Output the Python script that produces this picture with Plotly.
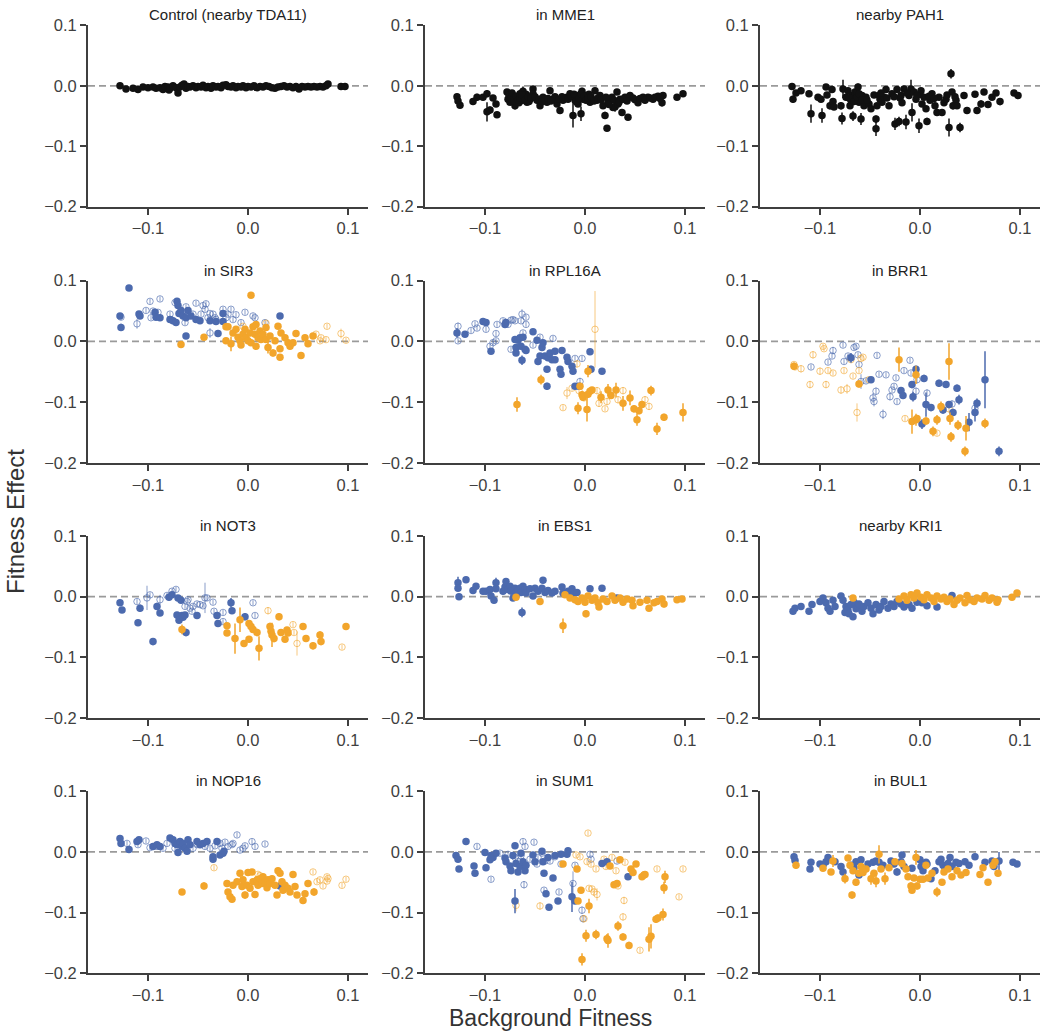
import plotly.graph_objects as go

# ---------------- data: (background fitness, fitness effect, error) ----------------
TITLES = ["Control (nearby TDA11)", "in MME1", "nearby PAH1",
          "in SIR3", "in RPL16A", "in BRR1",
          "in NOT3", "in EBS1", "nearby KRI1",
          "in NOP16", "in SUM1", "in BUL1"]

X_TICKS = [-0.1, 0.0, 0.1]
Y_TICKS = [-0.2, -0.1, 0.0, 0.1]

CONTROL_K = [(-0.128,0.000,0.002),(-0.122,-0.005,0.002),(-0.115,-0.004,0.002),(-0.110,-0.006,0.002),(-0.105,-0.002,0.002),
    (-0.100,-0.003,0.002),(-0.095,-0.002,0.002),(-0.092,-0.004,0.002),(-0.088,-0.003,0.002),(-0.085,-0.006,0.002),
    (-0.083,-0.001,0.002),(-0.080,-0.002,0.002),(-0.079,-0.007,0.002),(-0.078,-0.004,0.002),(-0.075,0.000,0.002),
    (-0.072,-0.003,0.002),(-0.070,-0.012,0.002),(-0.068,-0.002,0.002),(-0.066,0.001,0.002),(-0.064,0.003,0.002),
    (-0.062,-0.004,0.002),(-0.060,-0.001,0.002),(-0.058,-0.002,0.002),(-0.055,0.000,0.002),(-0.052,-0.003,0.002),
    (-0.050,-0.001,0.002),(-0.047,-0.002,0.002),(-0.045,0.001,0.002),(-0.042,-0.003,0.002),(-0.040,-0.001,0.002),
    (-0.037,-0.004,0.002),(-0.035,0.000,0.002),(-0.032,-0.002,0.002),(-0.030,-0.001,0.002),(-0.027,-0.003,0.002),
    (-0.025,0.001,0.002),(-0.022,0.002,0.002),(-0.020,-0.001,0.002),(-0.017,-0.002,0.002),(-0.015,0.000,0.002),
    (-0.012,-0.003,0.002),(-0.010,-0.001,0.002),(-0.007,-0.002,0.002),(-0.005,0.000,0.002),(-0.002,-0.003,0.002),
    (0.000,-0.001,0.002),(0.003,-0.002,0.002),(0.006,0.000,0.002),(0.009,-0.003,0.002),(0.012,-0.001,0.002),
    (0.015,-0.002,0.002),(0.018,0.000,0.002),(0.021,-0.001,0.002),(0.024,-0.003,0.002),(0.027,-0.004,0.002),
    (0.030,-0.002,0.002),(0.033,-0.001,0.002),(0.036,0.000,0.002),(0.039,-0.002,0.002),(0.042,-0.001,0.002),
    (0.045,-0.003,0.002),(0.048,-0.001,0.002),(0.051,-0.005,0.002),(0.054,-0.001,0.002),(0.057,-0.002,0.002),
    (0.060,-0.001,0.002),(0.063,-0.002,0.002),(0.066,-0.001,0.002),(0.069,-0.002,0.002),(0.072,-0.001,0.002),
    (0.075,-0.002,0.002),(0.078,0.000,0.002),(0.080,0.003,0.002),(0.093,-0.001,0.002),(0.097,-0.001,0.002)]

MME1_K = [(-0.128,-0.018,0.004),(-0.127,-0.025,0.004),(-0.125,-0.032,0.004),(-0.112,-0.026,0.004),(-0.108,-0.019,0.006),
    (-0.102,-0.019,0.004),(-0.098,-0.013,0.006),(-0.098,-0.043,0.016),(-0.095,-0.040,0.006),(-0.092,-0.020,0.004),
    (-0.089,-0.030,0.004),(-0.088,-0.048,0.004),(-0.078,-0.010,0.004),(-0.077,-0.022,0.004),(-0.075,-0.027,0.004),
    (-0.072,-0.016,0.004),(-0.070,-0.033,0.006),(-0.070,-0.020,0.004),(-0.068,-0.022,0.004),(-0.067,-0.019,0.004),
    (-0.066,-0.028,0.004),(-0.065,-0.013,0.006),(-0.064,-0.017,0.004),(-0.063,-0.024,0.004),(-0.062,-0.009,0.008),
    (-0.061,-0.022,0.004),(-0.060,-0.019,0.004),(-0.059,-0.014,0.004),(-0.058,-0.027,0.004),(-0.056,-0.026,0.004),
    (-0.055,-0.022,0.004),(-0.052,-0.005,0.004),(-0.052,-0.013,0.004),(-0.048,-0.024,0.004),(-0.045,-0.033,0.004),
    (-0.042,-0.019,0.004),(-0.040,-0.022,0.004),(-0.038,-0.027,0.004),(-0.035,-0.008,0.004),(-0.032,-0.022,0.004),
    (-0.030,-0.018,0.004),(-0.028,-0.030,0.004),(-0.025,-0.041,0.004),(-0.022,-0.024,0.004),(-0.020,-0.020,0.004),
    (-0.018,-0.019,0.004),(-0.015,-0.013,0.004),(-0.012,-0.049,0.020),(-0.010,-0.024,0.004),(-0.008,-0.016,0.004),
    (-0.008,-0.020,0.004),(-0.007,-0.030,0.004),(-0.005,-0.017,0.004),(-0.004,-0.046,0.012),(-0.003,-0.009,0.006),
    (-0.002,-0.022,0.004),(0.000,-0.020,0.004),(0.002,-0.016,0.004),(0.004,-0.014,0.004),(0.005,-0.027,0.004),
    (0.007,-0.022,0.004),(0.010,-0.008,0.004),(0.012,-0.024,0.004),(0.015,-0.016,0.004),(0.018,-0.033,0.004),
    (0.020,-0.049,0.006),(0.022,-0.070,0.004),(0.023,-0.027,0.004),(0.025,-0.022,0.004),(0.027,-0.019,0.004),
    (0.028,-0.036,0.004),(0.030,-0.035,0.008),(0.032,-0.010,0.004),(0.033,-0.030,0.004),(0.035,-0.022,0.004),
    (0.037,-0.044,0.004),(0.040,-0.019,0.004),(0.043,-0.052,0.004),(0.045,-0.016,0.004),(0.050,-0.023,0.004),
    (0.053,-0.028,0.004),(0.058,-0.019,0.004),(0.063,-0.019,0.004),(0.068,-0.022,0.004),(0.073,-0.017,0.004),
    (0.077,-0.028,0.006),(0.078,-0.016,0.004),(0.092,-0.019,0.004),(0.098,-0.013,0.004),
    (-0.076,-0.015,0.004),(-0.074,-0.021,0.004),(-0.073,-0.012,0.004),(-0.071,-0.025,0.004),(-0.069,-0.017,0.004),
    (-0.067,-0.024,0.004),(-0.065,-0.020,0.004),(-0.063,-0.015,0.004),(-0.060,-0.024,0.004),(-0.057,-0.018,0.004),
    (-0.054,-0.020,0.004),(-0.050,-0.018,0.004),(-0.046,-0.022,0.004),(-0.043,-0.026,0.004),(-0.037,-0.021,0.004),
    (-0.034,-0.025,0.004),(-0.026,-0.022,0.004),(-0.023,-0.018,0.004),(-0.017,-0.022,0.004),(-0.014,-0.017,0.004),
    (-0.011,-0.014,0.004),(-0.009,-0.026,0.004),(-0.006,-0.021,0.004),(-0.004,-0.013,0.004),(-0.001,-0.017,0.004),
    (0.001,-0.024,0.004),(0.003,-0.020,0.004),(0.006,-0.018,0.004),(0.009,-0.025,0.004),(0.013,-0.020,0.004),
    (0.016,-0.023,0.004),(0.021,-0.019,0.004),(0.024,-0.031,0.004),(0.029,-0.024,0.004),(0.034,-0.027,0.004),
    (0.038,-0.022,0.004),(0.042,-0.025,0.004),(0.048,-0.020,0.004),(0.055,-0.021,0.004),(0.060,-0.024,0.004),
    (0.065,-0.020,0.004),(0.070,-0.019,0.004),(0.075,-0.021,0.004)]

PAH1_K = [(-0.128,-0.001,0.004),(-0.127,-0.022,0.006),(-0.124,-0.012,0.004),(-0.119,-0.008,0.004),(-0.111,-0.013,0.004),
    (-0.109,-0.046,0.015),(-0.102,-0.019,0.004),(-0.099,-0.022,0.004),(-0.098,-0.049,0.012),(-0.094,-0.002,0.004),
    (-0.093,-0.015,0.004),(-0.090,-0.033,0.006),(-0.088,-0.006,0.004),(-0.087,-0.026,0.004),(-0.086,-0.035,0.004),
    (-0.079,-0.033,0.006),(-0.078,-0.054,0.010),(-0.077,-0.005,0.015),(-0.074,-0.019,0.004),(-0.072,-0.008,0.004),
    (-0.070,-0.033,0.004),(-0.069,-0.024,0.004),(-0.068,-0.016,0.004),(-0.067,-0.050,0.008),(-0.066,-0.018,0.004),
    (-0.065,-0.010,0.004),(-0.064,-0.022,0.004),(-0.063,-0.012,0.004),(-0.062,-0.002,0.006),(-0.061,-0.027,0.004),
    (-0.060,-0.020,0.004),(-0.059,-0.055,0.010),(-0.058,-0.016,0.004),(-0.057,-0.025,0.004),(-0.056,-0.033,0.004),
    (-0.054,-0.019,0.004),(-0.051,-0.030,0.004),(-0.049,-0.038,0.004),(-0.046,-0.015,0.004),(-0.044,-0.071,0.012),
    (-0.044,-0.055,0.006),(-0.043,-0.033,0.004),(-0.041,-0.016,0.004),(-0.040,-0.022,0.004),(-0.038,-0.027,0.004),
    (-0.036,-0.019,0.004),(-0.034,-0.006,0.004),(-0.031,-0.033,0.004),(-0.028,-0.013,0.004),(-0.025,-0.063,0.010),
    (-0.023,-0.006,0.004),(-0.021,-0.059,0.008),(-0.020,-0.020,0.004),(-0.019,-0.016,0.004),(-0.018,-0.028,0.004),
    (-0.016,-0.005,0.004),(-0.014,-0.060,0.012),(-0.011,-0.016,0.004),(-0.009,-0.005,0.015),(-0.008,-0.044,0.015),
    (-0.006,-0.010,0.004),(-0.004,-0.022,0.004),(-0.001,-0.066,0.012),(0.000,-0.014,0.004),(0.001,-0.008,0.004),
    (0.002,-0.030,0.004),(0.004,-0.019,0.004),(0.006,-0.038,0.004),(0.007,-0.059,0.006),(0.010,-0.024,0.004),
    (0.012,-0.013,0.004),(0.015,-0.033,0.004),(0.017,-0.044,0.004),(0.019,-0.019,0.004),(0.022,-0.044,0.004),
    (0.024,-0.028,0.004),(0.026,-0.022,0.004),(0.029,-0.069,0.015),(0.031,0.020,0.008),(0.032,-0.010,0.004),
    (0.033,-0.033,0.006),(0.036,-0.024,0.004),(0.037,-0.033,0.004),(0.040,-0.069,0.008),(0.044,-0.016,0.004),
    (0.047,-0.041,0.004),(0.055,-0.014,0.004),(0.057,-0.041,0.004),(0.061,-0.030,0.006),(0.064,-0.010,0.004),
    (0.068,-0.031,0.004),(0.072,-0.019,0.004),(0.076,-0.012,0.004),(0.080,-0.026,0.006),(0.094,-0.012,0.004),
    (0.098,-0.016,0.004),
    (-0.071,-0.020,0.004),(-0.066,-0.026,0.004),(-0.063,-0.019,0.004),(-0.061,-0.013,0.004),(-0.058,-0.023,0.004),
    (-0.053,-0.024,0.004),(-0.039,-0.012,0.004),(-0.033,-0.020,0.004),(-0.026,-0.018,0.004),(-0.013,-0.012,0.004),
    (-0.003,-0.016,0.004),(0.009,-0.017,0.004),(0.014,-0.021,0.004),(0.027,-0.015,0.004),(0.035,-0.018,0.004)]

SIR3_BF = [(-0.128,0.042,0.004),(-0.127,0.023,0.006),(-0.119,0.088,0.004),(-0.109,0.045,0.004),(-0.108,0.042,0.004),
    (-0.093,0.048,0.004),(-0.092,0.040,0.004),(-0.088,0.039,0.004),(-0.078,0.036,0.004),(-0.075,0.034,0.004),
    (-0.072,0.031,0.004),(-0.071,0.066,0.004),(-0.070,0.059,0.004),(-0.069,0.046,0.004),(-0.067,0.051,0.004),
    (-0.065,0.042,0.004),(-0.062,0.009,0.004),(-0.062,0.039,0.004),(-0.060,0.051,0.004),(-0.057,0.042,0.004),
    (-0.052,0.036,0.004),(-0.048,0.034,0.004),(-0.038,0.034,0.004),(-0.032,0.033,0.004),(-0.030,0.013,0.004),
    (-0.025,0.046,0.004),(-0.025,0.033,0.004),(0.032,0.042,0.004)]
SIR3_BO = [(-0.127,0.040,0.004),(-0.111,0.029,0.008),(-0.102,0.051,0.004),(-0.098,0.066,0.004),(-0.097,0.039,0.004),
    (-0.095,0.050,0.004),(-0.090,0.048,0.004),(-0.088,0.070,0.004),(-0.078,0.045,0.004),(-0.077,0.036,0.004),
    (-0.073,0.064,0.004),(-0.063,0.031,0.004),(-0.062,0.057,0.004),(-0.055,0.045,0.004),(-0.052,0.063,0.004),
    (-0.047,0.045,0.004),(-0.045,0.059,0.004),(-0.043,0.053,0.004),(-0.042,0.062,0.004),(-0.040,0.039,0.004),
    (-0.038,0.046,0.004),(-0.038,0.014,0.008),(-0.035,0.045,0.004),(-0.033,0.039,0.004),(-0.032,0.036,0.004),
    (-0.025,0.053,0.004),(-0.022,0.039,0.004),(-0.020,0.045,0.004),(-0.017,0.053,0.004),(-0.015,0.036,0.004),
    (-0.012,0.044,0.004),(-0.007,0.031,0.004),(-0.003,0.048,0.004),(0.005,0.042,0.004),(0.007,0.039,0.004),
    (0.017,0.031,0.004)]
SIR3_OF = [(-0.067,-0.005,0.004),(-0.044,0.007,0.004),(-0.022,0.024,0.004),(-0.020,0.024,0.004),(-0.022,0.001,0.004),
    (-0.017,-0.004,0.012),(-0.015,0.014,0.004),(-0.012,0.020,0.004),(-0.010,0.007,0.004),(-0.008,0.001,0.004),
    (-0.007,-0.006,0.004),(-0.005,0.012,0.004),(-0.003,0.020,0.004),(-0.002,0.006,0.004),(0.000,0.001,0.004),
    (0.002,0.014,0.004),(0.003,0.076,0.004),(0.003,-0.002,0.004),(0.005,0.024,0.004),(0.007,0.012,0.004),
    (0.008,0.028,0.004),(0.008,-0.008,0.004),(0.010,0.006,0.004),(0.012,0.017,0.004),(0.013,0.003,0.004),
    (0.015,0.012,0.004),(0.018,0.023,0.004),(0.018,0.003,0.004),(0.020,-0.010,0.010),(0.022,0.009,0.004),
    (0.025,-0.019,0.006),(0.027,0.001,0.004),(0.030,0.025,0.004),(0.032,-0.012,0.004),(0.032,-0.026,0.004),
    (0.033,0.014,0.004),(0.037,0.006,0.004),(0.040,-0.002,0.004),(0.042,-0.008,0.004),(0.045,-0.002,0.004),
    (0.048,0.013,0.004),(0.053,-0.023,0.004),(0.057,0.006,0.004),(0.060,-0.004,0.004),(0.065,0.009,0.004)]
SIR3_OO = [(-0.005,0.025,0.004),(0.018,0.030,0.004),(0.068,0.012,0.004),(0.072,0.001,0.004),(0.073,0.006,0.004),
    (0.078,0.003,0.004),(0.079,0.025,0.004),(0.093,0.013,0.008),(0.098,0.002,0.004)]

RPL16A_BF = [(-0.128,0.014,0.008),(-0.120,0.012,0.004),(-0.102,0.033,0.004),(-0.099,0.031,0.004),(-0.094,-0.016,0.004),
    (-0.080,0.028,0.004),(-0.079,0.031,0.004),(-0.070,0.003,0.004),(-0.069,-0.019,0.004),(-0.069,-0.010,0.004),
    (-0.067,0.002,0.004),(-0.065,0.006,0.004),(-0.064,-0.008,0.004),(-0.063,-0.031,0.008),(-0.062,0.007,0.004),
    (-0.060,-0.013,0.004),(-0.059,-0.015,0.004),(-0.052,0.016,0.004),(-0.048,0.002,0.004),(-0.047,-0.033,0.004),
    (-0.045,-0.024,0.004),(-0.043,-0.010,0.004),(-0.042,-0.002,0.004),(-0.040,-0.024,0.004),(-0.038,-0.046,0.004),
    (-0.038,-0.074,0.006),(-0.037,-0.027,0.004),(-0.035,-0.019,0.004),(-0.033,-0.030,0.004),(-0.030,-0.016,0.004),
    (-0.030,-0.030,0.004),(-0.025,-0.046,0.004),(-0.024,-0.054,0.004),(-0.023,-0.015,0.004),(-0.018,-0.026,0.004),
    (-0.017,-0.033,0.004),(-0.013,-0.041,0.004),(-0.012,-0.049,0.004),(-0.010,-0.074,0.004),(-0.006,-0.074,0.004),
    (0.005,-0.017,0.004),(0.006,-0.046,0.006),(0.017,-0.049,0.004)]
RPL16A_BO = [(-0.127,0.001,0.004),(-0.127,0.025,0.006),(-0.114,0.018,0.004),(-0.110,0.029,0.004),(-0.108,0.022,0.004),
    (-0.099,0.020,0.004),(-0.095,-0.008,0.004),(-0.092,-0.002,0.004),(-0.089,0.013,0.004),(-0.089,0.001,0.004),
    (-0.088,0.028,0.004),(-0.082,0.034,0.004),(-0.077,0.028,0.004),(-0.074,0.035,0.004),(-0.074,-0.013,0.004),
    (-0.072,0.036,0.004),(-0.070,0.034,0.004),(-0.064,0.034,0.004),(-0.063,0.045,0.008),(-0.062,0.014,0.004),
    (-0.059,0.040,0.004),(-0.059,0.028,0.004),(-0.052,-0.006,0.004),(-0.045,0.007,0.004),(-0.032,0.005,0.004),
    (-0.010,-0.028,0.004),(-0.005,-0.066,0.006),(-0.003,-0.028,0.004)]
RPL16A_OF = [(-0.068,-0.104,0.012),(-0.044,-0.063,0.008),(-0.007,-0.110,0.010),(-0.005,-0.074,0.006),(-0.003,-0.088,0.006),
    (-0.002,-0.092,0.006),(0.002,-0.112,0.020),(0.003,-0.049,0.010),(0.003,-0.087,0.006),(0.005,-0.082,0.004),
    (0.007,-0.080,0.004),(0.016,-0.092,0.010),(0.023,-0.080,0.010),(0.026,-0.089,0.006),(0.031,-0.080,0.012),
    (0.038,-0.102,0.012),(0.045,-0.093,0.012),(0.049,-0.111,0.006),(0.052,-0.129,0.010),(0.054,-0.114,0.006),
    (0.057,-0.104,0.006),(0.066,-0.081,0.008),(0.072,-0.144,0.010),(0.079,-0.125,0.006),(0.098,-0.117,0.015)]
RPL16A_OO = [(-0.022,-0.109,0.004),(-0.018,-0.085,0.010),(-0.013,-0.077,0.004),(-0.008,-0.037,0.006),(-0.006,-0.081,0.004),
    (-0.001,-0.093,0.004),(0.010,0.020,0.063),(0.012,-0.081,0.006),(0.014,-0.102,0.006),(0.020,-0.111,0.004),
    (0.022,-0.099,0.006),(0.033,-0.096,0.006),(0.038,-0.081,0.006),(0.060,-0.096,0.006),(0.064,-0.107,0.006)]

BRR1_BF = [(-0.069,-0.027,0.008),(-0.049,-0.063,0.004),(-0.019,-0.081,0.004),(-0.017,-0.089,0.004),(-0.008,-0.071,0.006),
    (-0.007,-0.091,0.008),(-0.004,-0.046,0.006),(0.002,-0.136,0.008),(0.004,-0.061,0.006),(0.006,-0.104,0.020),
    (0.011,-0.109,0.006),(0.019,-0.069,0.006),(0.023,-0.113,0.006),(0.026,-0.071,0.004),(0.029,-0.104,0.006),
    (0.033,-0.117,0.006),(0.037,-0.077,0.006),(0.039,-0.096,0.008),(0.049,-0.133,0.015),(0.055,-0.117,0.015),
    (0.057,-0.102,0.008),(0.065,-0.063,0.047),(0.079,-0.181,0.008)]
BRR1_BO = [(-0.109,-0.042,0.004),(-0.092,-0.034,0.004),(-0.088,-0.024,0.004),(-0.087,-0.015,0.006),(-0.077,-0.006,0.004),
    (-0.076,-0.033,0.004),(-0.072,-0.024,0.004),(-0.070,-0.027,0.004),(-0.066,-0.010,0.004),(-0.064,-0.008,0.004),
    (-0.062,-0.022,0.004),(-0.061,-0.038,0.004),(-0.059,-0.066,0.012),(-0.054,-0.065,0.004),(-0.047,-0.093,0.008),
    (-0.046,-0.099,0.008),(-0.044,-0.082,0.006),(-0.043,-0.023,0.004),(-0.041,-0.054,0.004),(-0.037,-0.120,0.008),
    (-0.034,-0.055,0.004),(-0.030,-0.091,0.006),(-0.028,-0.080,0.004),(-0.026,-0.074,0.004),(-0.024,-0.060,0.004),
    (-0.023,-0.099,0.004),(-0.016,-0.048,0.004),(-0.010,-0.031,0.004),(-0.009,-0.052,0.004),(-0.004,-0.082,0.006),
    (-0.003,-0.063,0.006),(0.007,-0.085,0.006),(0.032,-0.103,0.006),(0.055,-0.110,0.006)]
BRR1_OF = [(-0.126,-0.041,0.006),(-0.061,-0.070,0.006),(-0.021,-0.030,0.020),(-0.008,-0.132,0.020),(-0.004,-0.055,0.015),
    (-0.004,-0.129,0.010),(-0.003,-0.127,0.006),(0.006,-0.131,0.006),(0.013,-0.148,0.008),(0.017,-0.129,0.008),
    (0.021,-0.107,0.008),(0.029,-0.033,0.030),(0.030,-0.127,0.010),(0.031,-0.157,0.008),(0.038,-0.138,0.008),
    (0.045,-0.181,0.008),(0.046,-0.143,0.020),(0.065,-0.135,0.008)]
BRR1_OO = [(-0.126,-0.038,0.004),(-0.125,-0.042,0.004),(-0.119,-0.045,0.006),(-0.110,-0.071,0.006),(-0.107,-0.022,0.006),
    (-0.100,-0.049,0.006),(-0.097,-0.008,0.004),(-0.096,-0.012,0.004),(-0.094,-0.071,0.006),(-0.092,-0.048,0.004),
    (-0.087,-0.052,0.004),(-0.079,-0.080,0.006),(-0.076,-0.048,0.004),(-0.073,-0.078,0.008),(-0.069,-0.030,0.004),
    (-0.067,-0.057,0.004),(-0.063,-0.117,0.015),(-0.061,-0.048,0.004),(-0.059,-0.028,0.004),(-0.057,-0.026,0.004),
    (-0.051,-0.063,0.004),(-0.015,-0.127,0.004),(0.017,-0.151,0.004),(0.029,-0.111,0.006)]

NOT3_BF = [(-0.128,-0.010,0.004),(-0.126,-0.022,0.004),(-0.110,-0.043,0.004),(-0.108,-0.019,0.006),(-0.095,-0.074,0.006),
    (-0.091,-0.016,0.006),(-0.088,-0.027,0.004),(-0.079,-0.001,0.006),(-0.076,0.003,0.004),(-0.071,-0.030,0.004),
    (-0.070,-0.002,0.004),(-0.069,-0.039,0.004),(-0.067,-0.006,0.004),(-0.066,-0.031,0.004),(-0.065,-0.034,0.004),
    (-0.063,-0.030,0.004),(-0.062,-0.059,0.006),(-0.051,-0.031,0.004),(-0.031,-0.031,0.004),(-0.030,-0.044,0.004),
    (-0.017,-0.010,0.008),(-0.016,-0.023,0.004),(-0.003,-0.033,0.006)]
NOT3_BO = [(-0.111,-0.008,0.004),(-0.101,-0.002,0.020),(-0.098,0.003,0.004),(-0.088,-0.005,0.008),(-0.081,0.002,0.004),
    (-0.076,0.009,0.004),(-0.072,0.012,0.004),(-0.063,-0.016,0.004),(-0.061,-0.008,0.004),(-0.060,-0.005,0.004),
    (-0.058,-0.019,0.004),(-0.056,-0.024,0.004),(-0.055,-0.016,0.004),(-0.051,-0.012,0.004),(-0.048,-0.013,0.004),
    (-0.045,-0.015,0.004),(-0.043,-0.002,0.025),(-0.041,-0.002,0.004),(-0.035,-0.009,0.004),(-0.034,-0.024,0.004),
    (-0.025,-0.026,0.004),(-0.025,-0.041,0.004),(0.005,-0.010,0.004),(0.007,-0.031,0.004)]
NOT3_OF = [(-0.066,-0.054,0.008),(-0.021,-0.048,0.004),(-0.021,-0.060,0.004),(-0.013,-0.069,0.025),(-0.008,-0.038,0.020),
    (-0.004,-0.077,0.004),(0.001,-0.044,0.004),(0.001,-0.070,0.004),(0.003,-0.049,0.004),(0.005,-0.054,0.004),
    (0.009,-0.059,0.006),(0.011,-0.085,0.020),(0.022,-0.049,0.006),(0.023,-0.057,0.006),(0.024,-0.063,0.020),
    (0.026,-0.069,0.006),(0.031,-0.033,0.006),(0.033,-0.059,0.004),(0.037,-0.070,0.004),(0.039,-0.055,0.004),
    (0.040,-0.060,0.004),(0.055,-0.049,0.004),(0.058,-0.069,0.004),(0.065,-0.081,0.006),(0.072,-0.063,0.006),
    (0.073,-0.074,0.006),(0.098,-0.049,0.004)]
NOT3_OO = [(0.020,-0.023,0.006),(0.045,-0.046,0.004),(0.046,-0.059,0.004),(0.049,-0.077,0.020),(0.094,-0.083,0.004)]

EBS1_BF = [(-0.127,0.023,0.010),(-0.127,0.014,0.004),(-0.126,0.000,0.004),(-0.119,0.028,0.004),(-0.112,0.010,0.004),
    (-0.109,0.017,0.004),(-0.102,0.009,0.004),(-0.099,0.009,0.004),(-0.095,0.012,0.004),(-0.094,0.001,0.004),
    (-0.091,-0.006,0.004),(-0.089,0.023,0.008),(-0.089,0.013,0.004),(-0.082,0.009,0.004),(-0.080,0.016,0.004),
    (-0.079,0.025,0.004),(-0.077,0.012,0.004),(-0.075,0.017,0.004),(-0.074,0.009,0.004),(-0.072,-0.002,0.004),
    (-0.070,0.014,0.004),(-0.069,0.006,0.004),(-0.067,0.010,0.004),(-0.065,0.014,0.004),(-0.064,0.007,0.004),
    (-0.063,-0.026,0.008),(-0.062,0.017,0.004),(-0.060,0.012,0.004),(-0.059,0.006,0.004),(-0.055,0.013,0.004),
    (-0.052,0.001,0.004),(-0.050,0.014,0.004),(-0.047,0.009,0.004),(-0.043,0.014,0.004),(-0.042,0.027,0.004),
    (-0.040,0.007,0.004),(-0.037,0.010,0.004),(-0.033,0.006,0.004),(-0.030,0.009,0.004),(-0.023,0.016,0.004),
    (-0.022,0.006,0.004),(-0.017,0.009,0.004),(-0.013,0.013,0.004),(-0.012,0.003,0.004),(-0.008,0.007,0.004),
    (0.005,0.013,0.004),(0.017,0.014,0.004),(0.032,-0.002,0.004)]
EBS1_OF = [(-0.069,-0.001,0.004),(-0.045,-0.008,0.004),(-0.022,-0.048,0.012),(-0.020,0.003,0.004),(-0.015,-0.002,0.004),
    (-0.010,-0.005,0.004),(-0.007,-0.008,0.004),(-0.003,-0.002,0.004),(0.000,-0.009,0.004),(0.001,-0.028,0.006),
    (0.003,0.001,0.004),(0.007,-0.006,0.004),(0.010,-0.002,0.004),(0.013,-0.010,0.004),(0.014,-0.017,0.004),
    (0.018,-0.004,0.004),(0.022,-0.008,0.004),(0.027,0.001,0.004),(0.030,-0.006,0.004),(0.035,-0.002,0.004),
    (0.038,-0.009,0.004),(0.042,-0.004,0.004),(0.047,-0.006,0.004),(0.048,-0.015,0.004),(0.055,-0.009,0.004),
    (0.062,-0.006,0.004),(0.064,-0.019,0.004),(0.069,-0.010,0.004),(0.072,-0.008,0.004),(0.077,-0.004,0.004),
    (0.079,-0.012,0.006),(0.092,-0.005,0.004),(0.097,-0.004,0.004)]

KRI1_BF = [(-0.127,-0.024,0.004),(-0.125,-0.019,0.004),(-0.119,-0.016,0.004),(-0.111,-0.024,0.004),(-0.108,-0.013,0.004),
    (-0.100,-0.008,0.004),(-0.097,-0.002,0.004),(-0.094,-0.010,0.004),(-0.092,-0.019,0.004),(-0.090,-0.024,0.004),
    (-0.087,-0.006,0.004),(-0.085,-0.016,0.004),(-0.079,0.001,0.004),(-0.077,-0.006,0.004),(-0.075,-0.026,0.004),
    (-0.074,-0.016,0.004),(-0.072,-0.022,0.004),(-0.071,-0.028,0.004),(-0.069,-0.013,0.004),(-0.067,-0.033,0.004),
    (-0.066,-0.009,0.004),(-0.064,-0.020,0.004),(-0.062,-0.016,0.004),(-0.061,-0.012,0.004),(-0.058,-0.024,0.004),
    (-0.056,-0.016,0.004),(-0.052,-0.010,0.004),(-0.049,-0.019,0.004),(-0.047,-0.028,0.004),(-0.044,-0.013,0.004),
    (-0.041,-0.022,0.004),(-0.039,-0.016,0.004),(-0.036,-0.008,0.004),(-0.032,-0.019,0.004),(-0.029,-0.012,0.004),
    (-0.026,-0.016,0.004),(-0.023,-0.008,0.004),(-0.019,-0.012,0.004),(-0.016,-0.017,0.004),(-0.011,-0.013,0.004),
    (-0.008,-0.019,0.004),(-0.003,-0.009,0.004),(0.002,-0.010,0.004),(0.007,-0.015,0.004),(0.017,-0.017,0.004),
    (0.032,0.002,0.004)]
KRI1_OF = [(-0.067,-0.002,0.004),(-0.021,-0.004,0.004),(-0.016,0.001,0.004),(-0.013,-0.006,0.004),(-0.009,0.003,0.004),
    (-0.006,-0.002,0.004),(-0.003,0.006,0.004),(0.001,-0.001,0.004),(0.004,-0.005,0.004),(0.007,0.003,0.004),
    (0.011,-0.002,0.004),(0.014,-0.008,0.004),(0.017,0.001,0.004),(0.021,-0.004,0.004),(0.024,-0.001,0.004),
    (0.027,-0.008,0.004),(0.030,-0.004,0.004),(0.034,-0.013,0.004),(0.037,-0.006,0.004),(0.040,-0.002,0.004),
    (0.045,-0.010,0.004),(0.047,0.002,0.004),(0.050,-0.005,0.004),(0.054,-0.008,0.004),(0.057,-0.002,0.004),
    (0.062,-0.004,0.004),(0.065,0.002,0.004),(0.069,-0.006,0.004),(0.072,-0.002,0.004),(0.077,-0.009,0.004),
    (0.078,-0.005,0.004),(0.092,-0.001,0.004),(0.097,0.006,0.004)]

NOP16_BF = [(-0.128,0.022,0.004),(-0.127,0.014,0.004),(-0.119,0.004,0.004),(-0.111,0.017,0.004),(-0.109,0.020,0.004),
    (-0.095,0.009,0.004),(-0.091,0.012,0.004),(-0.088,0.009,0.004),(-0.078,0.023,0.004),(-0.075,0.020,0.004),
    (-0.073,0.014,0.004),(-0.071,0.012,0.004),(-0.070,-0.001,0.004),(-0.068,0.017,0.004),(-0.066,0.009,0.004),
    (-0.065,0.014,0.004),(-0.063,0.006,0.004),(-0.061,0.001,0.004),(-0.060,0.020,0.004),(-0.058,0.012,0.004),
    (-0.051,0.017,0.004),(-0.048,0.012,0.004),(-0.045,0.014,0.004),(-0.041,0.017,0.004),(-0.035,-0.012,0.004),
    (-0.035,-0.008,0.004),(-0.031,0.017,0.004),(-0.028,-0.005,0.004),(-0.025,-0.002,0.004),(-0.024,0.001,0.004),
    (0.032,-0.056,0.004)]
NOP16_BO = [(-0.121,0.014,0.004),(-0.110,0.012,0.004),(-0.102,0.018,0.004),(-0.098,0.007,0.004),(-0.091,0.009,0.004),
    (-0.085,0.006,0.004),(-0.081,0.014,0.004),(-0.073,0.006,0.004),(-0.061,0.014,0.004),(-0.055,0.006,0.004),
    (-0.051,0.012,0.004),(-0.043,0.009,0.004),(-0.038,0.006,0.004),(-0.033,0.010,0.004),(-0.028,0.014,0.004),
    (-0.026,0.006,0.004),(-0.023,0.016,0.004),(-0.020,0.009,0.004),(-0.016,0.012,0.004),(-0.015,0.014,0.004),
    (-0.011,0.028,0.004),(-0.008,0.003,0.004),(-0.005,0.006,0.004),(-0.003,0.010,0.004),(0.004,0.017,0.004),
    (0.007,0.009,0.004),(0.017,0.013,0.004)]
NOP16_OF = [(-0.066,-0.066,0.004),(-0.044,-0.056,0.006),(-0.021,-0.052,0.004),(-0.020,-0.066,0.004),(-0.018,-0.074,0.004),
    (-0.016,-0.078,0.004),(-0.015,-0.055,0.004),(-0.011,-0.049,0.004),(-0.008,-0.035,0.004),(-0.006,-0.057,0.004),
    (-0.005,-0.046,0.004),(-0.003,-0.071,0.006),(-0.001,-0.055,0.004),(0.000,-0.034,0.004),(0.002,-0.060,0.004),
    (0.004,-0.033,0.004),(0.005,-0.049,0.004),(0.007,-0.070,0.004),(0.009,-0.046,0.004),(0.010,-0.055,0.004),
    (0.012,-0.044,0.004),(0.014,-0.052,0.004),(0.015,-0.041,0.004),(0.017,-0.049,0.004),(0.019,-0.059,0.004),
    (0.020,-0.046,0.004),(0.022,-0.052,0.004),(0.024,-0.044,0.004),(0.027,-0.055,0.004),(0.029,-0.071,0.004),
    (0.030,-0.031,0.004),(0.032,-0.035,0.004),(0.034,-0.049,0.004),(0.035,-0.063,0.004),(0.037,-0.055,0.004),
    (0.040,-0.060,0.006),(0.042,-0.066,0.004),(0.045,-0.037,0.004),(0.047,-0.057,0.004),(0.049,-0.071,0.004),
    (0.055,-0.080,0.004),(0.057,-0.069,0.004),(0.060,-0.052,0.004),(0.066,-0.066,0.006)]
NOP16_OO = [(-0.034,-0.026,0.004),(0.010,-0.037,0.004),(0.012,-0.039,0.004),(0.065,-0.033,0.004),(0.069,-0.049,0.004),
    (0.072,-0.046,0.004),(0.075,-0.056,0.004),(0.079,-0.041,0.004),(0.079,-0.048,0.004),(0.080,-0.044,0.004),
    (0.094,-0.055,0.004),(0.098,-0.045,0.004)]

SUM1_BF = [(-0.129,-0.006,0.004),(-0.127,-0.012,0.004),(-0.126,-0.028,0.004),(-0.119,0.017,0.004),(-0.111,-0.023,0.004),
    (-0.110,-0.035,0.004),(-0.100,-0.001,0.004),(-0.099,-0.026,0.004),(-0.095,-0.013,0.004),(-0.094,-0.006,0.004),
    (-0.092,-0.009,0.004),(-0.089,-0.002,0.004),(-0.080,-0.010,0.004),(-0.079,-0.016,0.004),(-0.075,-0.023,0.004),
    (-0.074,-0.031,0.004),(-0.072,-0.006,0.004),(-0.070,0.010,0.004),(-0.070,-0.081,0.020),(-0.069,-0.019,0.004),
    (-0.067,-0.033,0.004),(-0.065,-0.024,0.004),(-0.064,-0.002,0.004),(-0.062,-0.016,0.004),(-0.060,-0.031,0.004),
    (-0.059,-0.022,0.004),(-0.052,-0.005,0.004),(-0.050,-0.016,0.004),(-0.043,0.001,0.004),(-0.042,-0.016,0.004),
    (-0.041,-0.035,0.004),(-0.039,-0.069,0.004),(-0.037,-0.009,0.004),(-0.036,-0.091,0.004),(-0.032,-0.043,0.004),
    (-0.030,-0.006,0.004),(-0.027,-0.081,0.004),(-0.024,-0.004,0.004),(-0.018,-0.004,0.004),(-0.017,0.002,0.004),
    (-0.013,-0.074,0.025),(-0.010,-0.081,0.004),(0.017,-0.019,0.004),(0.022,-0.016,0.004),(0.043,-0.041,0.004)]
SUM1_BO = [(-0.108,0.009,0.004),(-0.094,-0.045,0.004),(-0.085,-0.002,0.004),(-0.077,-0.004,0.004),(-0.070,-0.009,0.004),
    (-0.067,-0.016,0.004),(-0.064,-0.006,0.004),(-0.062,0.017,0.004),(-0.061,-0.054,0.006),(-0.060,0.009,0.004),
    (-0.055,-0.012,0.004),(-0.051,0.016,0.004),(-0.048,-0.020,0.004),(-0.047,-0.009,0.004),(-0.043,-0.002,0.004),
    (-0.041,-0.063,0.004),(-0.040,-0.015,0.004),(-0.035,-0.015,0.004),(-0.030,-0.008,0.004),(-0.026,-0.066,0.004),
    (-0.024,-0.020,0.004),(-0.012,-0.052,0.020),(-0.010,-0.022,0.004),(-0.003,-0.096,0.006),(-0.002,-0.110,0.006),
    (0.005,-0.004,0.004),(0.006,-0.012,0.004),(0.032,-0.015,0.004)]
SUM1_OF = [(-0.022,-0.020,0.004),(-0.008,-0.028,0.004),(-0.007,-0.081,0.004),(-0.004,-0.063,0.004),(-0.003,-0.177,0.010),
    (0.001,-0.138,0.010),(0.004,-0.089,0.012),(0.011,-0.136,0.008),(0.022,-0.143,0.008),(0.023,-0.146,0.012),
    (0.025,-0.023,0.004),(0.029,-0.054,0.004),(0.032,-0.052,0.004),(0.033,-0.122,0.008),(0.035,-0.013,0.004),
    (0.038,-0.140,0.006),(0.044,-0.154,0.006),(0.046,-0.028,0.004),(0.048,-0.034,0.004),(0.051,-0.020,0.004),
    (0.057,-0.041,0.004),(0.059,-0.038,0.004),(0.060,-0.037,0.004),(0.064,-0.144,0.020),(0.066,-0.139,0.020),
    (0.071,-0.111,0.006),(0.073,-0.109,0.006),(0.078,-0.103,0.010),(0.079,-0.059,0.010),(0.080,-0.041,0.010)]
SUM1_OO = [(-0.069,-0.088,0.010),(-0.045,-0.089,0.006),(-0.009,-0.005,0.004),(-0.005,-0.008,0.004),(-0.001,-0.110,0.006),
    (0.002,-0.016,0.004),(0.003,0.031,0.004),(0.004,-0.060,0.004),(0.006,-0.020,0.004),(0.007,-0.061,0.004),
    (0.009,-0.066,0.006),(0.011,-0.028,0.004),(0.012,-0.070,0.010),(0.019,-0.012,0.004),(0.021,-0.024,0.004),
    (0.027,-0.009,0.004),(0.031,-0.031,0.004),(0.033,-0.056,0.004),(0.038,-0.107,0.006),(0.039,-0.080,0.006),
    (0.040,-0.017,0.004),(0.055,-0.162,0.004),(0.072,-0.028,0.004),(0.094,-0.074,0.004),(0.098,-0.028,0.004)]

BUL1_BF = [(-0.126,-0.008,0.004),(-0.125,-0.014,0.004),(-0.110,-0.028,0.004),(-0.109,-0.017,0.004),(-0.100,-0.020,0.004),
    (-0.097,-0.022,0.004),(-0.094,-0.016,0.004),(-0.092,-0.009,0.004),(-0.085,-0.016,0.004),(-0.079,-0.024,0.004),
    (-0.077,-0.033,0.004),(-0.069,-0.022,0.004),(-0.066,-0.026,0.004),(-0.064,-0.016,0.004),(-0.061,-0.038,0.004),
    (-0.059,-0.013,0.004),(-0.052,-0.020,0.004),(-0.047,-0.017,0.004),(-0.044,-0.015,0.004),(-0.041,-0.017,0.004),
    (-0.037,-0.022,0.004),(-0.029,-0.015,0.004),(-0.026,-0.020,0.004),(-0.023,-0.033,0.006),(-0.019,-0.016,0.004),
    (-0.018,-0.005,0.004),(-0.016,-0.024,0.004),(-0.008,-0.027,0.004),(0.000,-0.013,0.004),(0.001,-0.024,0.004),
    (0.003,-0.031,0.004),(0.006,-0.017,0.004),(0.007,-0.020,0.004),(0.011,-0.044,0.004),(0.015,-0.031,0.004),
    (0.019,-0.016,0.004),(0.021,-0.012,0.004),(0.023,-0.022,0.004),(0.025,-0.026,0.004),(0.028,-0.019,0.004),
    (0.030,-0.009,0.004),(0.032,-0.024,0.004),(0.036,-0.017,0.004),(0.039,-0.019,0.004),(0.045,-0.016,0.004),
    (0.049,-0.022,0.004),(0.055,-0.008,0.004),(0.065,-0.017,0.004),(0.072,-0.015,0.004),(0.074,-0.024,0.004),
    (0.079,-0.015,0.015),(0.093,-0.017,0.004),(0.097,-0.020,0.004)]
BUL1_OF = [(-0.124,-0.022,0.006),(-0.097,-0.027,0.004),(-0.089,-0.033,0.004),(-0.087,-0.015,0.010),(-0.075,-0.044,0.008),
    (-0.072,-0.010,0.004),(-0.070,-0.022,0.004),(-0.068,-0.071,0.006),(-0.067,-0.031,0.004),(-0.064,-0.050,0.006),
    (-0.061,-0.035,0.004),(-0.059,-0.024,0.004),(-0.057,-0.034,0.004),(-0.054,-0.028,0.004),(-0.049,-0.044,0.010),
    (-0.046,-0.035,0.004),(-0.044,-0.048,0.010),(-0.041,-0.004,0.015),(-0.039,-0.028,0.004),(-0.035,-0.044,0.010),
    (-0.031,-0.026,0.004),(-0.025,-0.016,0.004),(-0.018,-0.019,0.004),(-0.014,-0.028,0.004),(-0.012,-0.041,0.004),
    (-0.009,-0.056,0.006),(-0.008,-0.063,0.004),(-0.006,-0.043,0.004),(-0.004,-0.009,0.012),(-0.003,-0.056,0.006),
    (0.000,-0.045,0.004),(0.003,-0.045,0.004),(0.006,-0.022,0.004),(0.008,-0.043,0.004),(0.012,-0.035,0.004),
    (0.017,-0.066,0.008),(0.022,-0.050,0.004),(0.024,-0.033,0.004),(0.028,-0.028,0.004),(0.032,-0.041,0.004),
    (0.037,-0.031,0.004),(0.041,-0.038,0.004),(0.046,-0.034,0.004),(0.060,-0.037,0.004),(0.063,-0.026,0.004),
    (0.068,-0.050,0.004),(0.073,-0.022,0.004),(0.075,-0.016,0.004),(0.078,-0.035,0.004)]

# panel -> list of (group kind, data)
PANELS = [
    [("k", CONTROL_K)], [("k", MME1_K)], [("k", PAH1_K)],
    [("bo", SIR3_BO), ("oo", SIR3_OO), ("bf", SIR3_BF), ("of", SIR3_OF)],
    [("bo", RPL16A_BO), ("oo", RPL16A_OO), ("bf", RPL16A_BF), ("of", RPL16A_OF)],
    [("bo", BRR1_BO), ("oo", BRR1_OO), ("bf", BRR1_BF), ("of", BRR1_OF)],
    [("bo", NOT3_BO), ("oo", NOT3_OO), ("bf", NOT3_BF), ("of", NOT3_OF)],
    [("bf", EBS1_BF), ("of", EBS1_OF)],
    [("bf", KRI1_BF), ("of", KRI1_OF)],
    [("bo", NOP16_BO), ("oo", NOP16_OO), ("bf", NOP16_BF), ("of", NOP16_OF)],
    [("bo", SUM1_BO), ("oo", SUM1_OO), ("bf", SUM1_BF), ("of", SUM1_OF)],
    [("bf", BUL1_BF), ("of", BUL1_OF)],
]

# ---------------- styling ----------------
W, H = 1050, 1050
COL_PX = [(88, 368), (425, 705), (760, 1040)]
ROW_PX = [(25, 206), (280, 462), (535, 717), (790, 972)]
FONT = "Liberation Sans, Arial, sans-serif"
AX = "#3f3f3f"


def page_y(screen_y):
    # vertical placement in the page that gives the wanted position in the picture
    return screen_y * 1.0184 - 8.7


STYLE = {
    "k":  dict(color="#111111", open=False),
    "bf": dict(color="#4c6aae", open=False),
    "of": dict(color="#f2a52b", open=False),
    "bo": dict(color="rgba(76,106,174,0.65)", open=True),
    "oo": dict(color="rgba(242,165,43,0.6)", open=True),
}

fig = go.Figure()
layout = dict(width=W, height=H, margin=dict(l=0, r=0, t=0, b=0),
              paper_bgcolor="white", plot_bgcolor="white", showlegend=False,
              font=dict(family=FONT, color=AX))
annotations = []
shapes = []

for i, groups in enumerate(PANELS):
    r, c = divmod(i, 3)
    n = i + 1
    xs = "" if n == 1 else str(n)
    x0, x1 = COL_PX[c]
    y0, y1 = ROW_PX[r]
    xd = [x0 / W, x1 / W]
    yd = [1 - page_y(y1) / H, 1 - page_y(y0) / H]
    common = dict(tickformat=".1f", showgrid=False, zeroline=False,
                  showline=True, linecolor=AX, linewidth=1.8, ticks="outside",
                  ticklen=6, tickwidth=1.8, tickcolor=AX,
                  tickfont=dict(size=16.5, color=AX, family=FONT))
    layout["xaxis" + xs] = dict(domain=xd, anchor="y" + xs, range=[-0.16, 0.12],
                                tickvals=X_TICKS, **common)
    layout["yaxis" + xs] = dict(domain=yd, anchor="x" + xs, range=[-0.2, 0.1],
                                tickvals=Y_TICKS, **common)
    shapes.append(dict(type="line", xref="x" + xs + " domain", yref="y" + xs,
                       x0=0, x1=1, y0=0, y1=0, layer="below",
                       line=dict(color="#9a9a9a", width=1.7, dash="7px,4px")))
    annotations.append(dict(text=TITLES[i], xref="paper", yref="paper",
                            x=(xd[0] + xd[1]) / 2, y=yd[1], yshift=10.5,
                            xanchor="center", yanchor="middle", showarrow=False,
                            font=dict(size=15, color="#222", family=FONT)))
    for kind, data in groups:
        st = STYLE[kind]
        gx = [p[0] for p in data]
        gy = [p[1] for p in data]
        ge = [p[2] for p in data]
        if st["open"]:
            marker = dict(symbol="circle-open", size=6.5, color=st["color"], line=dict(width=1, color=st["color"]))
            ethick = 1.0
        else:
            marker = dict(symbol="circle", size=7.5, color=st["color"], line=dict(width=0))
            ethick = 1.5
        fig.add_trace(go.Scatter(x=gx, y=gy, mode="markers", marker=marker,
                                 error_y=dict(type="data", array=ge, visible=True, color=st["color"],
                                              thickness=ethick, width=0),
                                 xaxis="x" + xs, yaxis="y" + xs, hoverinfo="skip"))

annotations.append(dict(text="Background Fitness", xref="paper", yref="paper",
                        x=550 / W, y=1 - page_y(1017) / H, xanchor="center", yanchor="middle",
                        showarrow=False, font=dict(size=23, color="#333", family=FONT)))
annotations.append(dict(text="Fitness Effect", xref="paper", yref="paper",
                        x=16 / W, y=1 - page_y(521) / H, xanchor="center", yanchor="middle", textangle=-90,
                        showarrow=False, font=dict(size=24, color="#333", family=FONT)))

layout["annotations"] = annotations
layout["shapes"] = shapes
fig.update_layout(**layout)
fig.write_html("out.html", config={"displayModeBar": False},
               post_script="document.body.style.margin='0';document.body.style.overflow='hidden';")
